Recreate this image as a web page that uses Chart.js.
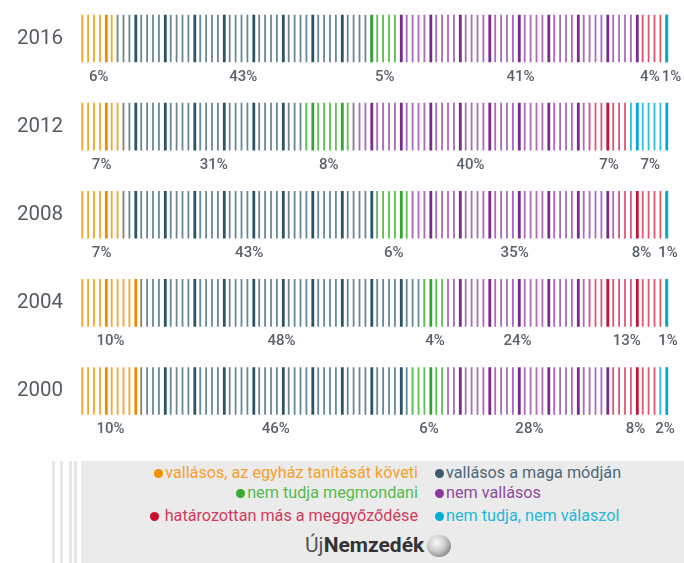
<!DOCTYPE html>
<html><head><meta charset="utf-8">
<script src="https://cdn.jsdelivr.net/npm/chart.js@4/dist/chart.umd.min.js"></script>
<style>
body{margin:0;background:#fff;font-family:Roboto,sans-serif}
#wrap{position:relative;width:684px;height:563px;overflow:hidden}
#cbox{position:absolute;left:0;top:0;width:684px;height:455px}
.stripe{position:absolute;top:461px;height:102px;background:#e6e6e6}
#leg{position:absolute;left:81px;top:461px;width:603px;height:102px;background:#ebebeb}
.row{position:absolute;font-size:16.2px;white-space:nowrap;line-height:20px}
.l{right:calc(603px - 337px)}
.r{left:354px}
.dot{display:inline-block;width:9px;height:9px;border-radius:50%;margin-right:2px;vertical-align:0}
#logo{position:absolute;left:224px;top:72px;font-size:21px;color:#555;white-space:nowrap;line-height:24px}
#logo b{color:#333;font-weight:700}
#ball{display:inline-block;width:24px;height:22px;border-radius:50%;vertical-align:-5px;margin-left:3px;
 background:radial-gradient(circle at 40% 35%,#fafafa 0,#c8c8c8 45%,#8a8a8a 75%,#555 100%)}
</style></head>
<body><div id="wrap">
<div id="cbox"><canvas id="c"></canvas></div>
<div class="stripe" style="left:52px;width:3px"></div>
<div class="stripe" style="left:60px;width:3px"></div>
<div class="stripe" style="left:69px;width:3px"></div>
<div class="stripe" style="left:74px;width:3px"></div>
<div id="leg"></div>
</div>
<script>
'use strict';
const years=['2016','2012','2008','2004','2000'];
const followsChurch=[6,7,7,10,10];
const ownWay=[43,31,43,48,46];
const cannotSay=[5,8,6,4,6];
const notReligious=[41,40,35,24,28];
const otherConviction=[4,7,8,13,8];
const noAnswer=[1,7,1,1,2];
const seriesNames=['vallásos, az egyház tanítását követi','vallásos a maga módján','nem tudja megmondani','nem vallásos','határozottan más a meggyőződése','nem tudja, nem válaszol'];
const seriesData=[followsChurch,ownWay,cannotSay,notReligious,otherConviction,noAnswer];
// thin stripe, thick stripe, legend dot, legend text
const pal=[
  ['#f5a52c','#ef8a00','#f39200','#f5a02a'],
  ['#6a8798','#2c5468','#3d5a6c','#4d6878'],
  ['#5cbf51','#32a52e','#3aaa35','#55bb50'],
  ['#a86cb8','#7a2a8b','#8a3a9a','#8e4aa0'],
  ['#dc5872','#c51238','#c8102e','#d23a5c'],
  ['#30bcdb','#00a8cc','#00aed6','#1fb8d8']
];
const patCache={};
function stripes(ctx,k){
  const ch=ctx.chart,xs=ch.scales.x;
  if(!ch.chartArea||!xs)return pal[k][0];
  const key=k+'_'+Math.round(xs.left)+'_'+Math.round(xs.right);
  if(patCache[key])return patCache[key];
  const t=document.createElement('canvas');t.width=ch.width;t.height=4;
  const g=t.getContext('2d');
  for(let i=0;i<100;i++){
    const x=xs.getPixelForValue(i),thick=i%5===4;
    g.fillStyle=thick?pal[k][1]:pal[k][0];
    g.fillRect(x+0.3,0,thick?2.8:1.8,4);
  }
  return patCache[key]=ch.ctx.createPattern(t,'repeat');
}
const pctLabels={id:'pctLabels',afterDatasetsDraw(ch){
  const c=ch.ctx;c.save();
  c.font='500 15px Roboto';c.fillStyle='#5a6169';c.textBaseline='middle';c.textAlign='center';
  years.forEach((y,j)=>{
    const items=seriesData.map((d,k)=>{
      const el=ch.getDatasetMeta(k).data[j];
      const txt=d[j]+'%';
      return{txt,x:(el.x+el.base)/2,w:c.measureText(txt).width,y:el.y+el.height/2+15};
    });
    for(let pass=0;pass<4;pass++)for(let i=0;i<items.length-1;i++){
      const a=items[i],b=items[i+1],ov=(a.x+a.w/2+2)-(b.x-b.w/2);
      if(ov>0){a.x-=ov/2;b.x+=ov/2;}
    }
    items.forEach(it=>c.fillText(it.txt,it.x,it.y));
  });
  c.restore();
}};
new Chart(document.getElementById('c'),{
  type:'bar',
  data:{labels:years,datasets:seriesData.map((d,k)=>({
    label:seriesNames[k],data:d,borderWidth:0,barThickness:47,clip:false,
    backgroundColor:ctx=>stripes(ctx,k)
  }))},
  options:{
    indexAxis:'y',responsive:true,maintainAspectRatio:false,animation:false,events:[],
    layout:{padding:{top:38.5,bottom:64,right:13,left:0}},
    plugins:{legend:{display:false},tooltip:{enabled:false}},
    scales:{
      x:{type:'linear',stacked:true,min:0,max:100,display:false},
      y:{stacked:true,offset:false,grid:{display:false,drawTicks:false},border:{display:false},
        ticks:{font:{family:'Roboto',size:20.5},color:'#555b62',padding:18},
        afterFit:s=>{s.width=81;}}
    }
  },
  plugins:[pctLabels]
});
// legend: left column right-aligned, right column left-aligned
const leg=document.getElementById('leg');
const slots=[[0,'l',2],[1,'r',2],[2,'l',22],[3,'r',22],[4,'l',45],[5,'r',45]];
slots.forEach(([k,side,top])=>{
  const d=document.createElement('div');
  d.className='row '+side;d.style.top=top+'px';d.style.color=pal[k][3];
  d.innerHTML=`<span class="dot" style="background:${pal[k][2]}${k===4?';margin-right:6px':''}"></span>${seriesNames[k]}`;
  leg.appendChild(d);
});
const logo=document.createElement('div');logo.id='logo';
logo.innerHTML='Új<b>Nemzedék</b><span id="ball"></span>';
leg.appendChild(logo);
</script></body></html>
